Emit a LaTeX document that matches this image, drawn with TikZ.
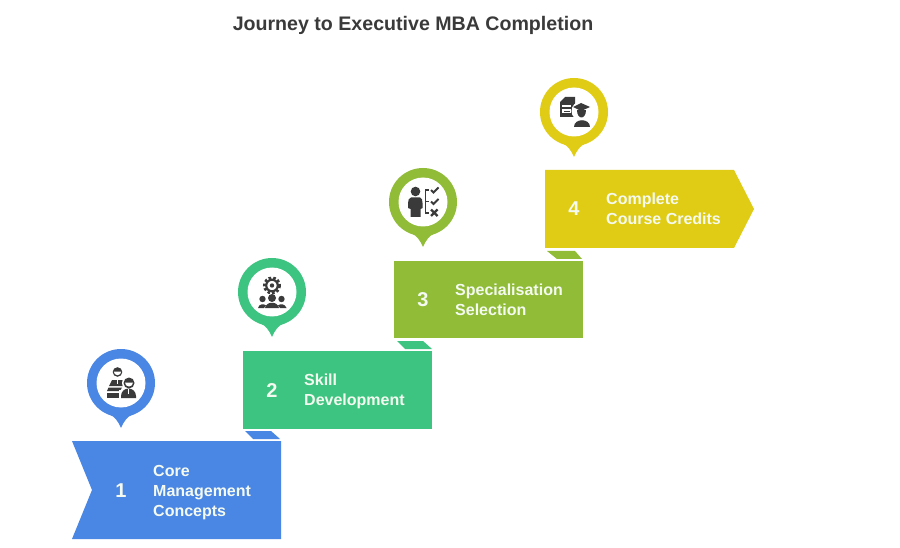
\documentclass[tikz,border=0pt]{standalone}
\usepackage{fontspec}
\setmainfont{Liberation Sans}
\definecolor{cblue}{HTML}{4A86E3}
\definecolor{cgreen}{HTML}{3CC480}
\definecolor{colive}{HTML}{90BC38}
\definecolor{cyellow}{HTML}{E0CC14}
\definecolor{cdark}{HTML}{3A3A3A}
\definecolor{ctext}{HTML}{F4FAF0}
\tikzset{
  x=1pt,y=-1pt,
  numlabel/.style={font=\bfseries\fontsize{20}{20}\selectfont,text=ctext,anchor=center,inner sep=0},
  steplabel/.style={font=\bfseries\fontsize{16}{20}\selectfont,text=ctext,anchor=west,align=left,inner sep=0},
  icon/.style={fill=cdark,draw=none},
  iconline/.style={draw=cdark,line width=1.8pt,fill=none},
}
\newcommand{\mypin}[3]{% x, y, colour
  \fill[#3] (#1,#2) circle[radius=34];
  \fill[#3] (#1-12,#2+31) .. controls (#1-6,#2+34) and (#1-3,#2+38) .. (#1,#2+45)
     .. controls (#1+3,#2+38) and (#1+6,#2+34) .. (#1+12,#2+31) -- cycle;
  \fill[white] (#1,#2) circle[radius=24.5];
}
\begin{document}
\begin{tikzpicture}
\useasboundingbox (0,0) rectangle (900,548);
\fill[white] (0,0) rectangle (900,548);

\node[font=\bfseries\fontsize{19.6}{24}\selectfont,text=cdark,inner sep=0] (title) at (413,25) {Journey to Executive MBA Completion};

% tabs
\fill[cblue] (245,431) -- (271,431) -- (280,439) -- (253,439) -- cycle;
\fill[cgreen] (397,341) -- (423,341) -- (432,349) -- (405,349) -- cycle;
\fill[colive] (547,251) -- (575,251) -- (582,259) -- (557,259) -- cycle;

% step boxes
\fill[cblue] (72,441) -- (281,441) -- (281,539) -- (72,539) -- (92,490) -- cycle;
\fill[cgreen] (243,351) rectangle (432,429);
\fill[colive] (394,261) rectangle (583,338);
\fill[cyellow] (545,170) -- (734,170) -- (754,209) -- (734,248) -- (545,248) -- cycle;

% labels
\node[numlabel] (n1) at (121,491) {1};
\node[numlabel] (n2) at (272,391) {2};
\node[numlabel] (n3) at (423,300) {3};
\node[numlabel] (n4) at (574,209) {4};
\node[steplabel] (t1) at (153,492.5) {Core\\Management\\Concepts};
\node[steplabel] (t2) at (304,391.5) {Skill\\Development};
\node[steplabel] (t3) at (455,300) {Specialisation\\Selection};
\node[steplabel] (t4) at (606,209) {Complete\\Course Credits};

% pins
\mypin{121}{383}{cblue}
\mypin{272}{292}{cgreen}
\mypin{423}{202}{colive}
\mypin{574}{112}{cyellow}

% icon 1: two people
\fill[icon] (117.5,372) circle[radius=4.8];
\fill[white] (113.8,371.5) arc[start angle=180,end angle=0,radius=3.7] -- cycle;
\fill[icon] (112,380) -- (123,380) -- (125,386) -- (109,386) -- cycle;
\fill[icon] (108.5,387.5) -- (122,387.5) -- (120,391) -- (107,391) -- cycle;
\fill[icon] (107,392.5) rectangle (120,398);
\fill[white] (116.7,380) rectangle (118.3,384);
\fill[white] (129,383) circle[radius=7];
\fill[icon] (129,383) circle[radius=5.5];
\fill[white] (125,382.5) arc[start angle=180,end angle=0,radius=4] -- cycle;
\fill[white] (119,390) rectangle (122,399);
\fill[icon] (121,398) -- (121,396) arc[start angle=180,end angle=360,radius=7.5] -- (136,398) -- cycle;
\fill[white] (127.8,389) rectangle (129.2,393.5);

% icon 2: gear and three people
\draw[draw=cdark,line width=2.8pt,dash pattern=on 2.6pt off 2pt] (272,285.5) circle[radius=7.6];
\draw[draw=cdark,line width=2.2pt,fill=white] (272,285.5) circle[radius=5.8];
\fill[icon] (272,285.5) circle[radius=2.2];
\fill[icon] (262.5,299) circle[radius=3.2];
\fill[icon] (272,298) circle[radius=4];
\fill[icon] (281.5,299) circle[radius=3.2];
\fill[icon] (258,308) .. controls (259,303.5) and (264,303.5) .. (266,305.5) -- (264,308) -- cycle;
\fill[icon] (265,308) .. controls (266,301) and (278,301) .. (279,308) -- cycle;
\fill[icon] (286.5,308) .. controls (285,303.5) and (280,303.5) .. (278,305.5) -- (280,308) -- cycle;

% icon 3: person and checklist
\fill[icon] (415.5,191.5) circle[radius=4.8];
\fill[icon] (411,197.5) -- (420,197.5) .. controls (422,198) and (422.5,200) .. (422.5,203) -- (422.5,208) -- (420.5,209) -- (420.5,217) -- (410.5,217) -- (410.5,209) -- (408,208) -- (408,203) .. controls (408,200) and (409,198) .. (411,197.5) -- cycle;
\draw[iconline,line width=1.2pt] (428.5,190) -- (425.5,190) -- (425.5,213) -- (428.5,213) (425.5,201.5) -- (428.5,201.5);
\draw[iconline,line width=2pt] (431,190) -- (433.5,192.5) -- (438.5,187.5);
\draw[iconline,line width=2pt] (431,201.5) -- (433.5,204) -- (438.5,199);
\draw[iconline,line width=2.2pt] (431,209.5) -- (437.5,216) (437.5,209.5) -- (431,216);

% icon 4: document and graduate
\fill[icon] (565,97) -- (575,97) -- (575,117) -- (560,117) -- (560,102) -- cycle;
\fill[white] (562,105.5) rectangle (571,107);
\fill[white] (562,109.5) rectangle (571,113.5);
\fill[icon] (563.5,110.7) rectangle (569.5,112.3);
\fill[white] (581,111) circle[radius=9.5];
\fill[icon] (581,103) -- (590,107) -- (581,111) -- (573,107) -- cycle;
\fill[icon] (576.5,110.5) -- (586,110.5) .. controls (586,120) and (576.5,120) .. (576.5,110.5) -- cycle;
\fill[icon] (574,127) .. controls (574,118) and (590,118) .. (590,127) -- cycle;
\end{tikzpicture}
\end{document}
